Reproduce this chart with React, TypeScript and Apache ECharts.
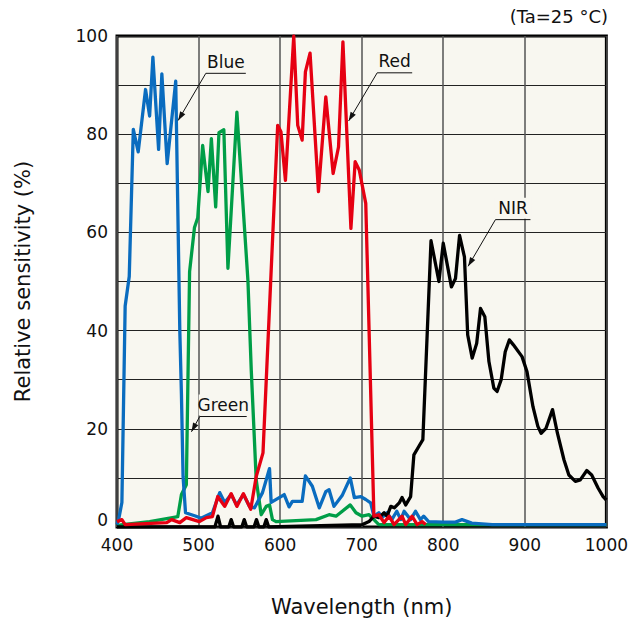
import React, { useEffect, useRef } from "react";
import * as echarts from "echarts";

type P = [number, number];

const xTicks = [400, 500, 600, 700, 800, 900, 1000];
const yTicks = [0, 20, 40, 60, 80, 100];

const blue: P[] = [
  [400, 0.5], [402, 1.5], [406, 5], [410, 45], [415, 51], [420, 81], [426, 76.4], [435, 89.1],
  [440, 83.7], [444, 95.7], [451, 76.9], [455, 92.3], [461.5, 74], [472, 90.8], [477, 40],
  [479, 27], [481, 10.3], [484, 2.9], [497, 2.2], [503, 1.8], [517, 2.9], [526, 7], [532, 5],
  [540, 6.6], [546.6, 4.5], [555, 6.6], [562.5, 4.2], [568.6, 3.9], [578.4, 7], [587, 11.9],
  [589, 5], [601, 6.2], [605, 6.6], [611, 4.1], [615, 5.2], [627, 5.2], [631, 10.4], [639.5, 8.3],
  [648, 3.9], [656, 7.2], [660, 7.6], [666, 4.2], [676, 6.4], [686, 10], [691, 6], [699, 6.2],
  [705, 5.6], [711, 4.9], [715, 2.2], [721, 2.9], [725, 1.9], [731, 2.9], [737, 1.5], [743, 3.2],
  [748, 1.5], [752, 3.2], [760, 1.5], [766, 3.2], [772, 1.5], [776, 2.2], [782, 1.1], [800, 1],
  [815, 1], [823, 1.5], [835, 0.8], [860, 0.5], [1000, 0.5],
];

const green: P[] = [
  [400, 0.3], [407, 0.5], [440, 1.1], [468, 1.9], [474.5, 2.1], [479, 6.6], [485, 8.6], [489, 52],
  [495, 61], [499, 63], [505, 77.7], [511.6, 68.3], [515.7, 79.1], [521, 65.2], [525, 80.3],
  [531, 80.9], [536, 52.7], [547, 84.5], [560.5, 50.3], [564.6, 32], [570.7, 9.6], [576.8, 2.5],
  [583, 4.2], [587, 4.5], [590.6, 1.5], [595, 1.1], [644, 1.5], [660, 2.5], [668.5, 2.2],
  [686, 4.5], [693, 2.9], [700.6, 2.2], [709, 2.5], [715, 1.5], [721, 0.5], [1000, 0.5],
];

const red: P[] = [
  [400, 1.1], [406, 1.5], [410, 0.5], [461, 0.9], [467, 1.5], [477, 0.9], [485, 1.9], [493, 1.5],
  [501, 1.1], [509.6, 1.9], [517, 2.1], [523.5, 6.2], [532, 4.2], [540, 6.8], [547, 4.2],
  [555, 6.8], [564, 3.6], [570.7, 10.3], [579, 15.1], [597, 81.8], [601, 80.5], [606.5, 70.6],
  [616.7, 100], [621.6, 81.8], [627, 78.8], [631, 92.7], [636.7, 96.5], [647, 68.3], [656, 87.6],
  [665, 72], [671.6, 77.4], [677, 98.8], [686.8, 60.8], [692, 74.4], [697, 72.7], [705, 65.9],
  [715, 2.2], [721, 2.5], [727.5, 0.9], [733.6, 2.2], [739.7, 0.5], [749.5, 2.2], [754, 0.5],
  [761.7, 2.2], [768, 0.5], [774, 1.1], [778.5, 0.5],
];

const nir: P[] = [
  [400, 0], [520, 0], [523.8, 2.2], [527, 0], [537, 0], [540, 1.5], [543, 0], [553, 0], [556, 1.5],
  [559, 0], [568, 0], [571, 1.5], [574, 0], [580, 0], [583, 1.5], [586, 0], [701, 0.5], [709, 1.1],
  [715, 2.2], [721, 1.9], [727.5, 2.9], [731, 2.2], [735.7, 4.2], [740, 3.9], [746, 4.9],
  [749.5, 6], [754, 4.5], [760, 6.2], [764, 14.7], [770, 16.4], [775, 17.8], [785, 58.3],
  [794.7, 50], [800, 57.8], [810, 48.9], [815, 50.6], [820, 59.4], [826, 55], [830, 39.1],
  [835.5, 34.4], [841, 37.4], [845.7, 44.5], [851, 42.8], [856, 33.7], [862, 28.3], [866, 27.6],
  [871, 30], [876, 35.7], [881, 38.1], [886, 37.1], [896.6, 34.7], [902.7, 31.6], [910, 24.5],
  [916, 20.5], [920, 19.1], [926, 20.1], [934, 23.9], [940, 19.1], [948, 13.7], [954, 10.6],
  [962, 9.3], [968, 9.6], [976, 11.5], [982, 10.6], [990, 7.9], [996, 6.2], [1000, 5.5],
];

const annotations = [
  { label: "Blue", at: [508.9, 92.4] as P, tip: [475, 82.8] as P, width: 40 },
  { label: "Red", at: [719, 92.5] as P, tip: [684, 82.7] as P, width: 35 },
  { label: "NIR", at: [864, 62.6] as P, tip: [830.5, 53.1] as P, width: 35 },
  { label: "Green", at: [501.4, 22.5] as P, tip: [491.3, 19.4] as P, width: 47 },
];

const FONT = "DejaVu Sans, Verdana, sans-serif";
const BG = "#f8f7f0";

export default function App() {
  const ref = useRef<HTMLDivElement>(null);
  useEffect(() => {
    if (!ref.current) return;
    const chart = echarts.init(ref.current, null, { renderer: "svg" });
    const mk = (name: string, data: P[], color: string) => ({
      name,
      type: "line",
      data,
      showSymbol: false,
      symbol: "none",
      lineStyle: { color, width: 3.3, join: "round" },
      itemStyle: { color },
      emphasis: { disabled: true },
    });
    chart.setOption({
      animation: false,
      backgroundColor: "#fff",
      textStyle: { fontFamily: FONT },
      grid: {
        left: 117, right: 23, top: 36, bottom: 99,
        show: true, backgroundColor: BG, borderColor: "#000", borderWidth: 3,
      },
      xAxis: {
        type: "value", min: 400, max: 1000, interval: 100,
        name: "Wavelength (nm)", nameLocation: "middle", nameGap: 69,
        nameTextStyle: { fontSize: 21, color: "#111", fontFamily: FONT },
        axisLine: { show: false }, axisTick: { show: false },
        axisLabel: { fontSize: 17, color: "#111", margin: 9, fontFamily: FONT,
          formatter: (v: number) => (xTicks.includes(v) ? String(v) : "") },
        splitLine: { show: true, lineStyle: { color: "#555", width: 1.5 } },
      },
      yAxis: {
        type: "value", min: 0, max: 100, interval: 10,
        name: "Relative sensitivity (%)", nameLocation: "middle", nameGap: 84,
        nameTextStyle: { fontSize: 21, color: "#111", fontFamily: FONT },
        axisLine: { show: false }, axisTick: { show: false },
        axisLabel: {
          fontSize: 17, color: "#111", margin: 9, fontFamily: FONT,
          formatter: (v: number) => (v === 0 ? "{z|0}" : yTicks.includes(v) ? String(v) : ""),
          rich: { z: { fontSize: 17, color: "#111", fontFamily: FONT, padding: [0, 0, 14, 0] } },
        },
        splitLine: { show: true, lineStyle: { color: "#222", width: 1 } },
      },
      series: [mk("Green", green, "#009e47"), mk("Blue", blue, "#0a6cbf"), mk("NIR", nir, "#000"), mk("Red", red, "#e60012")],
    });

    const els: any[] = [];
    annotations.forEach((a) => {
      const [sx, sy] = chart.convertToPixel({ gridIndex: 0 }, a.at) as number[];
      const [tx, ty] = chart.convertToPixel({ gridIndex: 0 }, a.tip) as number[];
      els.push({ type: "rect", shape: { x: sx - 1, y: sy - 22, width: a.width + 2, height: 21 }, style: { fill: BG }, z: 100 });
      els.push({ type: "text", x: sx + a.width / 2, y: sy - 3, style: { text: a.label, font: `17px ${FONT}`, fill: "#111", textAlign: "center", textVerticalAlign: "bottom" }, z: 101 });
      els.push({ type: "line", shape: { x1: sx, y1: sy, x2: sx + a.width, y2: sy }, style: { stroke: "#111", lineWidth: 1 }, z: 101 });
      els.push({ type: "line", shape: { x1: sx, y1: sy, x2: tx, y2: ty }, style: { stroke: "#111", lineWidth: 1 }, z: 101 });
      const ang = Math.atan2(ty - sy, tx - sx);
      const L = 9, W = 3;
      const bx = tx - L * Math.cos(ang), by = ty - L * Math.sin(ang);
      const nx = -Math.sin(ang), ny = Math.cos(ang);
      els.push({ type: "polygon", shape: { points: [[tx, ty], [bx + nx * W, by + ny * W], [bx - nx * W, by - ny * W]] }, style: { fill: "#111" }, z: 101 });
    });
    els.push({ type: "text", right: 23, top: 7, style: { text: "(Ta=25 °C)", font: `18px ${FONT}`, fill: "#111" }, z: 101 });
    chart.setOption({ graphic: els });
    return () => chart.dispose();
  }, []);
  return <div ref={ref} style={{ position: "fixed", left: 0, top: 0, width: 631, height: 626 }} />;
}
